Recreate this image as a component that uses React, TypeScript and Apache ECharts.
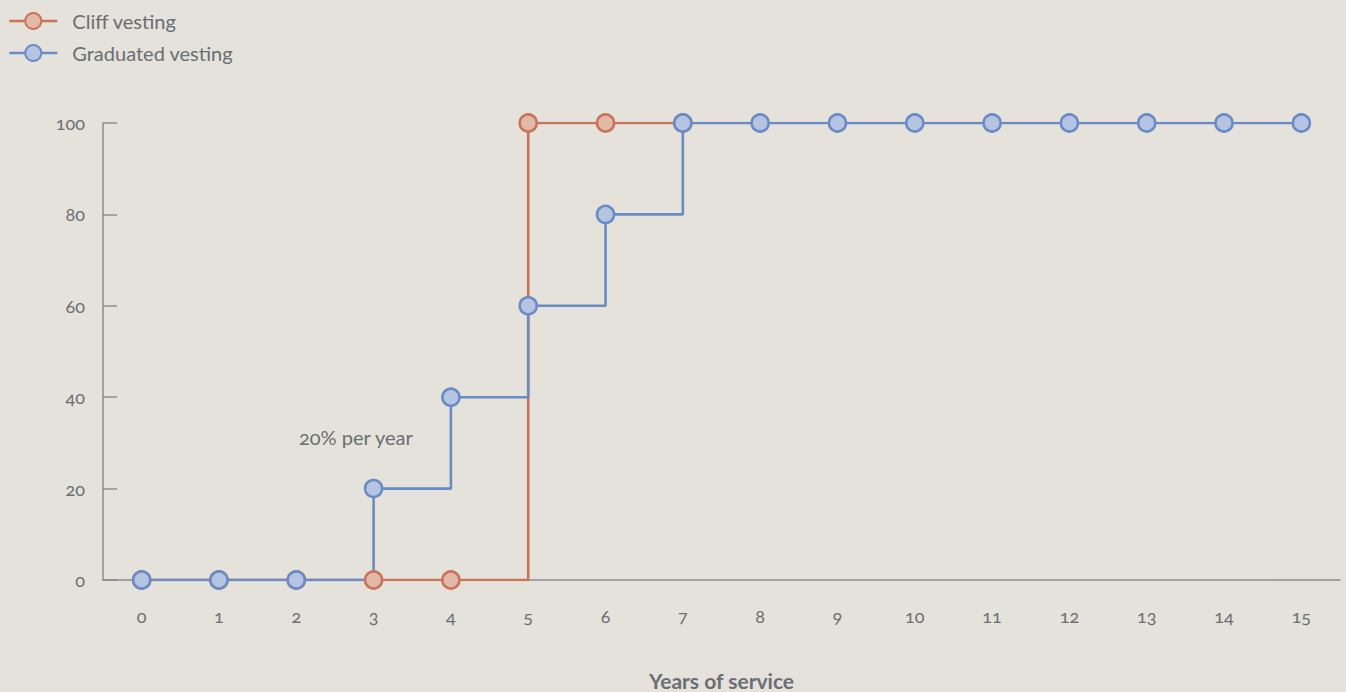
import React, { useEffect, useRef } from "react";
import * as echarts from "echarts";

// Years of service (x categories)
const years = ["0", "1", "2", "3", "4", "5", "6", "7", "8", "9", "10", "11", "12", "13", "14", "15"];
// Vested share (%) per year
const cliffVesting = [0, 0, 0, 0, 0, 100, 100, 100];
const graduatedVesting = [0, 0, 0, 20, 40, 60, 80, 100, 100, 100, 100, 100, 100, 100, 100, 100];
const yTicks = { min: 0, max: 100, interval: 20 };

const RED = "#c9735a";
const RED_FILL = "#e2b9a7";
const BLUE = "#6a8bc5";
const BLUE_FILL = "#b5c4e2";
const TEXT = "#6b6e74";
const AXIS = "#8b8c8e";
const BG = "#e4e2da";
const FONT = "Lato, 'Open Sans', sans-serif";

export default function App() {
  const ref = useRef<HTMLDivElement>(null);

  useEffect(() => {
    if (!ref.current) return;
    const chart = echarts.init(ref.current, undefined, { renderer: "svg" });

    const lineOnly = (name: string, data: number[], color: string, z: number) => ({
      name,
      type: "line",
      step: "end",
      data,
      showSymbol: false,
      silent: true,
      z,
      lineStyle: { color, width: 2.6 },
      itemStyle: { color },
    });

    const marksOnly = (name: string, data: number[], color: string, fill: string, z: number) => ({
      name,
      type: "line",
      data,
      symbol: "circle",
      symbolSize: 17,
      showAllSymbol: true,
      silent: true,
      z,
      lineStyle: { color, width: 2.6, opacity: 0 },
      itemStyle: { color: fill, borderColor: color, borderWidth: 2.6 },
    });

    chart.setOption({
      animation: false,
      backgroundColor: BG,
      textStyle: { fontFamily: FONT },
      legend: {
        orient: "vertical",
        left: 3,
        top: 6,
        itemWidth: 48,
        itemHeight: 20,
        itemGap: 12,
        selectedMode: false,
        textStyle: { color: TEXT, fontSize: 20, fontFamily: FONT, padding: [0, 0, 0, 10] },
        data: [
          { name: "Cliff vesting", lineStyle: { color: RED, width: 2.6, opacity: 1 } },
          { name: "Graduated vesting", lineStyle: { color: BLUE, width: 2.6, opacity: 1 } },
        ],
      },
      grid: { left: 103, right: 6, top: 123, bottom: 112, outerBoundsMode: "none" },
      xAxis: {
        type: "category",
        data: years,
        boundaryGap: true,
        name: "Years of service",
        nameLocation: "middle",
        nameGap: 90,
        nameTextStyle: { color: TEXT, fontSize: 21, fontWeight: "bold", fontFamily: FONT },
        axisLine: { lineStyle: { color: AXIS, width: 1.5 } },
        axisTick: { show: false },
        axisLabel: { color: TEXT, fontSize: 18, margin: 27, fontFamily: FONT },
        splitLine: { show: false },
      },
      yAxis: {
        type: "value",
        min: yTicks.min,
        max: yTicks.max,
        interval: yTicks.interval,
        axisLine: { show: true, lineStyle: { color: AXIS, width: 1.5 } },
        axisTick: { show: true, inside: true, length: 14, lineStyle: { color: AXIS, width: 1.5 } },
        axisLabel: { color: TEXT, fontSize: 18, margin: 18, fontFamily: FONT },
        splitLine: { show: false },
      },
      graphic: [
        {
          type: "text",
          x: 299,
          y: 437,
          style: {
            text: "20% per year",
            fill: TEXT,
            font: `20px ${FONT}`,
            verticalAlign: "middle",
          },
        },
      ],
      series: [
        lineOnly("Cliff vesting steps", cliffVesting, RED, 2),
        lineOnly("Graduated vesting steps", graduatedVesting, BLUE, 3),
        marksOnly("Cliff vesting", cliffVesting, RED, RED_FILL, 4),
        marksOnly("Graduated vesting", graduatedVesting, BLUE, BLUE_FILL, 5),
      ],
    });

    const onResize = () => chart.resize();
    window.addEventListener("resize", onResize);
    return () => {
      window.removeEventListener("resize", onResize);
      chart.dispose();
    };
  }, []);

  return (
    <>
      <style>{`body{margin:0;background:${BG};} svg text{font-feature-settings:"onum" 1 !important;}`}</style>
      <div ref={ref} style={{ width: 1346, height: 692 }} />
    </>
  );
}
